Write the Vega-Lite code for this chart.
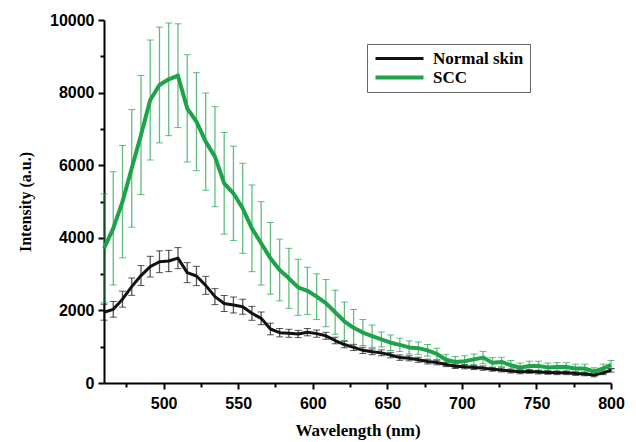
{
  "$schema": "https://vega.github.io/schema/vega-lite/v6.json",
  "width": 507,
  "height": 363,
  "autosize": {"type": "none"},
  "padding": {"left": 104, "top": 20, "right": 25, "bottom": 59},
  "background": "white",
  "config": {
    "view": {"stroke": null},
    "axis": {
      "domainColor": "black",
      "domainWidth": 2,
      "tickColor": "black",
      "tickWidth": 2,
      "grid": false,
      "labelFont": "Liberation Sans",
      "labelFontWeight": "bold",
      "labelFontSize": 16,
      "labelColor": "black",
      "titleFont": "Liberation Serif",
      "titleFontWeight": "bold",
      "titleFontSize": 16,
      "titleColor": "black"
    }
  },
  "data": {
    "values": [
      {"wl": 460, "series": "Normal skin", "mean": 1950, "err": 220},
      {"wl": 466.2, "series": "Normal skin", "mean": 2030, "err": 216},
      {"wl": 472.4, "series": "Normal skin", "mean": 2310, "err": 220},
      {"wl": 478.6, "series": "Normal skin", "mean": 2654, "err": 239},
      {"wl": 484.8, "series": "Normal skin", "mean": 2960, "err": 275},
      {"wl": 491, "series": "Normal skin", "mean": 3205, "err": 285},
      {"wl": 497.2, "series": "Normal skin", "mean": 3340, "err": 300},
      {"wl": 503.4, "series": "Normal skin", "mean": 3361, "err": 293},
      {"wl": 509.6, "series": "Normal skin", "mean": 3440, "err": 290},
      {"wl": 515.8, "series": "Normal skin", "mean": 3040, "err": 276},
      {"wl": 522, "series": "Normal skin", "mean": 2948, "err": 266},
      {"wl": 528.2, "series": "Normal skin", "mean": 2690, "err": 248},
      {"wl": 534.4, "series": "Normal skin", "mean": 2379, "err": 220},
      {"wl": 540.6, "series": "Normal skin", "mean": 2190, "err": 220},
      {"wl": 546.8, "series": "Normal skin", "mean": 2149, "err": 220},
      {"wl": 553, "series": "Normal skin", "mean": 2100, "err": 207},
      {"wl": 559.2, "series": "Normal skin", "mean": 1920, "err": 193},
      {"wl": 565.4, "series": "Normal skin", "mean": 1782, "err": 175},
      {"wl": 571.6, "series": "Normal skin", "mean": 1488, "err": 160},
      {"wl": 577.8, "series": "Normal skin", "mean": 1386, "err": 115},
      {"wl": 584, "series": "Normal skin", "mean": 1369, "err": 110},
      {"wl": 590.2, "series": "Normal skin", "mean": 1350, "err": 100},
      {"wl": 596.4, "series": "Normal skin", "mean": 1400, "err": 100},
      {"wl": 602.6, "series": "Normal skin", "mean": 1360, "err": 100},
      {"wl": 608.8, "series": "Normal skin", "mean": 1300, "err": 95},
      {"wl": 615, "series": "Normal skin", "mean": 1170, "err": 90},
      {"wl": 621.2, "series": "Normal skin", "mean": 1060, "err": 90},
      {"wl": 627.4, "series": "Normal skin", "mean": 980, "err": 85},
      {"wl": 633.6, "series": "Normal skin", "mean": 900, "err": 85},
      {"wl": 639.8, "series": "Normal skin", "mean": 860, "err": 80},
      {"wl": 646, "series": "Normal skin", "mean": 830, "err": 80},
      {"wl": 652.2, "series": "Normal skin", "mean": 770, "err": 75},
      {"wl": 658.4, "series": "Normal skin", "mean": 700, "err": 75},
      {"wl": 664.6, "series": "Normal skin", "mean": 680, "err": 70},
      {"wl": 670.8, "series": "Normal skin", "mean": 640, "err": 70},
      {"wl": 677, "series": "Normal skin", "mean": 590, "err": 65},
      {"wl": 683.2, "series": "Normal skin", "mean": 565, "err": 65},
      {"wl": 689.4, "series": "Normal skin", "mean": 510, "err": 60},
      {"wl": 695.6, "series": "Normal skin", "mean": 460, "err": 60},
      {"wl": 701.8, "series": "Normal skin", "mean": 450, "err": 60},
      {"wl": 708, "series": "Normal skin", "mean": 430, "err": 60},
      {"wl": 714.2, "series": "Normal skin", "mean": 410, "err": 60},
      {"wl": 720.4, "series": "Normal skin", "mean": 380, "err": 55},
      {"wl": 726.6, "series": "Normal skin", "mean": 360, "err": 55},
      {"wl": 732.8, "series": "Normal skin", "mean": 330, "err": 55},
      {"wl": 739, "series": "Normal skin", "mean": 310, "err": 55},
      {"wl": 745.2, "series": "Normal skin", "mean": 320, "err": 50},
      {"wl": 751.4, "series": "Normal skin", "mean": 300, "err": 50},
      {"wl": 757.6, "series": "Normal skin", "mean": 290, "err": 50},
      {"wl": 763.8, "series": "Normal skin", "mean": 280, "err": 50},
      {"wl": 770, "series": "Normal skin", "mean": 280, "err": 50},
      {"wl": 776.2, "series": "Normal skin", "mean": 260, "err": 50},
      {"wl": 782.4, "series": "Normal skin", "mean": 250, "err": 50},
      {"wl": 788.6, "series": "Normal skin", "mean": 220, "err": 50},
      {"wl": 794.8, "series": "Normal skin", "mean": 280, "err": 50},
      {"wl": 800, "series": "Normal skin", "mean": 350, "err": 50},
      {"wl": 460, "series": "SCC", "mean": 3710, "err": 1500},
      {"wl": 466.2, "series": "SCC", "mean": 4260, "err": 1560},
      {"wl": 472.4, "series": "SCC", "mean": 4995, "err": 1547},
      {"wl": 478.6, "series": "SCC", "mean": 5914, "err": 1621},
      {"wl": 484.8, "series": "SCC", "mean": 6832, "err": 1639},
      {"wl": 491, "series": "SCC", "mean": 7796, "err": 1653},
      {"wl": 497.2, "series": "SCC", "mean": 8209, "err": 1594},
      {"wl": 503.4, "series": "SCC", "mean": 8366, "err": 1552},
      {"wl": 509.6, "series": "SCC", "mean": 8466, "err": 1430},
      {"wl": 515.8, "series": "SCC", "mean": 7567, "err": 1478},
      {"wl": 522, "series": "SCC", "mean": 7198, "err": 1350},
      {"wl": 528.2, "series": "SCC", "mean": 6650, "err": 1339},
      {"wl": 534.4, "series": "SCC", "mean": 6235, "err": 1378},
      {"wl": 540.6, "series": "SCC", "mean": 5500, "err": 1400},
      {"wl": 546.8, "series": "SCC", "mean": 5226, "err": 1299},
      {"wl": 553, "series": "SCC", "mean": 4813, "err": 1240},
      {"wl": 559.2, "series": "SCC", "mean": 4261, "err": 1194},
      {"wl": 565.4, "series": "SCC", "mean": 3848, "err": 1148},
      {"wl": 571.6, "series": "SCC", "mean": 3435, "err": 987},
      {"wl": 577.8, "series": "SCC", "mean": 3113, "err": 850},
      {"wl": 584, "series": "SCC", "mean": 2884, "err": 827},
      {"wl": 590.2, "series": "SCC", "mean": 2636, "err": 771},
      {"wl": 596.4, "series": "SCC", "mean": 2540, "err": 650},
      {"wl": 602.6, "series": "SCC", "mean": 2380, "err": 628},
      {"wl": 608.8, "series": "SCC", "mean": 2200, "err": 650},
      {"wl": 615, "series": "SCC", "mean": 1950, "err": 606},
      {"wl": 621.2, "series": "SCC", "mean": 1700, "err": 528},
      {"wl": 627.4, "series": "SCC", "mean": 1520, "err": 505},
      {"wl": 633.6, "series": "SCC", "mean": 1390, "err": 358},
      {"wl": 639.8, "series": "SCC", "mean": 1290, "err": 307},
      {"wl": 646, "series": "SCC", "mean": 1200, "err": 206},
      {"wl": 652.2, "series": "SCC", "mean": 1110, "err": 215},
      {"wl": 658.4, "series": "SCC", "mean": 1050, "err": 184},
      {"wl": 664.6, "series": "SCC", "mean": 980, "err": 180},
      {"wl": 670.8, "series": "SCC", "mean": 960, "err": 170},
      {"wl": 677, "series": "SCC", "mean": 900, "err": 160},
      {"wl": 683.2, "series": "SCC", "mean": 800, "err": 160},
      {"wl": 689.4, "series": "SCC", "mean": 640, "err": 150},
      {"wl": 695.6, "series": "SCC", "mean": 580, "err": 150},
      {"wl": 701.8, "series": "SCC", "mean": 600, "err": 150},
      {"wl": 708, "series": "SCC", "mean": 650, "err": 150},
      {"wl": 714.2, "series": "SCC", "mean": 700, "err": 170},
      {"wl": 720.4, "series": "SCC", "mean": 560, "err": 140},
      {"wl": 726.6, "series": "SCC", "mean": 580, "err": 130},
      {"wl": 732.8, "series": "SCC", "mean": 490, "err": 130},
      {"wl": 739, "series": "SCC", "mean": 420, "err": 130},
      {"wl": 745.2, "series": "SCC", "mean": 470, "err": 130},
      {"wl": 751.4, "series": "SCC", "mean": 470, "err": 130},
      {"wl": 757.6, "series": "SCC", "mean": 430, "err": 120},
      {"wl": 763.8, "series": "SCC", "mean": 440, "err": 120},
      {"wl": 770, "series": "SCC", "mean": 440, "err": 120},
      {"wl": 776.2, "series": "SCC", "mean": 400, "err": 120},
      {"wl": 782.4, "series": "SCC", "mean": 400, "err": 120},
      {"wl": 788.6, "series": "SCC", "mean": 310, "err": 110},
      {"wl": 794.8, "series": "SCC", "mean": 400, "err": 120},
      {"wl": 800, "series": "SCC", "mean": 500, "err": 120}
    ]
  },
  "encoding": {
    "x": {
      "field": "wl",
      "type": "quantitative",
      "scale": {"domain": [460, 800], "nice": false, "zero": false},
      "axis": {
        "title": "Wavelength (nm)",
        "titleFontSize": 17,
        "titlePadding": 11,
        "values": [475, 500, 525, 550, 575, 600, 625, 650, 675, 700, 725, 750, 775, 800],
        "labelExpr": "datum.value % 50 === 0 ? datum.label : ''",
        "tickSize": {"condition": {"test": "datum.value % 50 === 0", "value": 6}, "value": 4},
        "labelPadding": 6,
        "labelFlush": false,
        "format": "d"
      }
    },
    "y": {
      "field": "mean",
      "type": "quantitative",
      "scale": {"domain": [0, 10000], "nice": false},
      "axis": {
        "title": "Intensity (a.u.)",
        "titleFontSize": 16,
        "titlePadding": 16,
        "values": [0, 1000, 2000, 3000, 4000, 5000, 6000, 7000, 8000, 9000, 10000],
        "labelExpr": "datum.value % 2000 === 0 ? datum.label : ''",
        "tickSize": {"condition": {"test": "datum.value % 2000 === 0", "value": 6}, "value": 4},
        "labelPadding": 4,
        "format": "d"
      }
    },
    "color": {
      "field": "series",
      "type": "nominal",
      "scale": {"domain": ["Normal skin", "SCC"], "range": ["#111111", "#1fa34a"]},
      "legend": {
        "orient": "none",
        "legendX": 263,
        "legendY": 24,
        "title": null,
        "symbolType": "M-1,0H7",
        "symbolSize": 144,
        "symbolStrokeWidth": 3,
        "symbolOpacity": 1,
        "labelOffset": 43,
        "labelFont": "Liberation Serif",
        "labelFontWeight": "bold",
        "labelFontSize": 17,
        "labelColor": "black",
        "strokeColor": "#666666",
        "fillColor": "white",
        "padding": 6,
        "rowPadding": 1
      }
    }
  },
  "layer": [
    {
      "mark": {"type": "errorbar", "ticks": {"size": 7, "opacity": 0.7}, "rule": {"strokeWidth": 1.3, "opacity": 0.7}},
      "encoding": {"yError": {"field": "err"}}
    },
    {
      "mark": {"type": "line", "strokeJoin": "round"},
      "encoding": {
        "strokeWidth": {"field": "series", "type": "nominal", "scale": {"domain": ["Normal skin", "SCC"], "range": [3, 4]}, "legend": null}
      }
    }
  ]
}
